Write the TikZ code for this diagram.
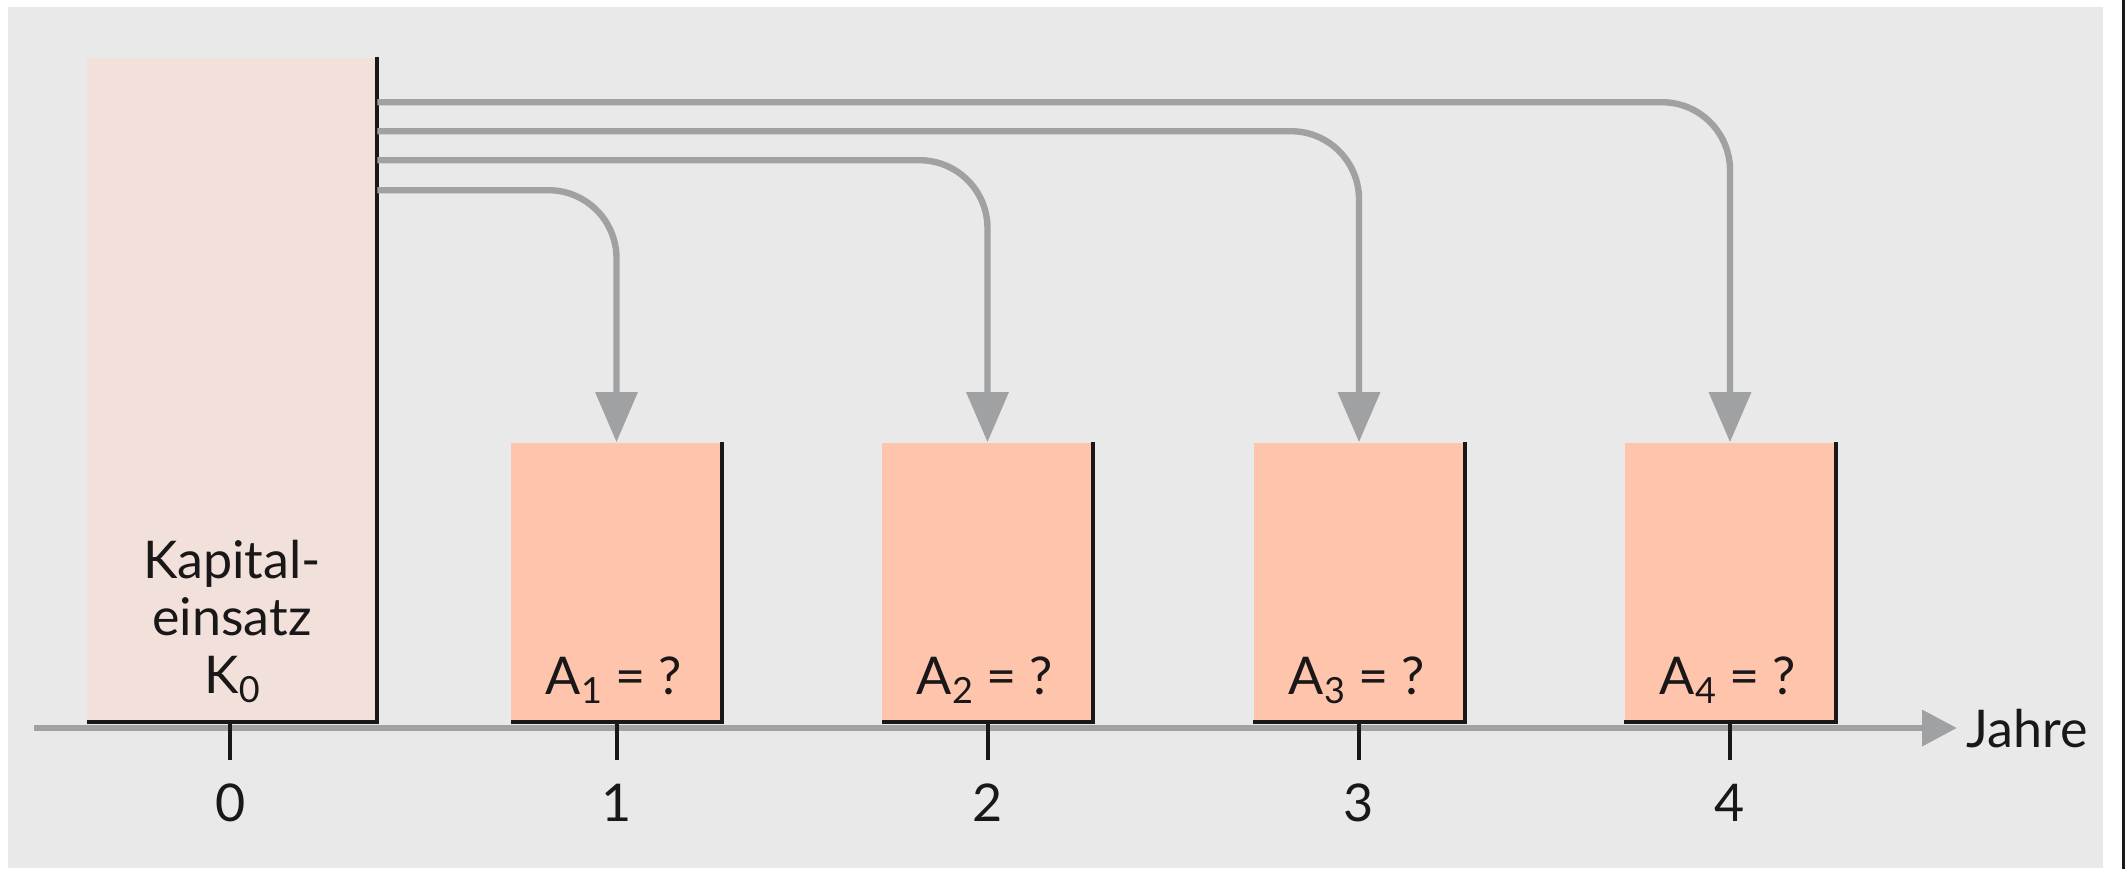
\documentclass[tikz,border=0pt]{standalone}
\usepackage{fontspec}
\setmainfont{Lato}
\usetikzlibrary{arrows.meta}
\definecolor{bgcol}{RGB}{232,233,232}
\definecolor{kcol}{RGB}{242,225,218}
\definecolor{acol}{RGB}{255,196,172}
\definecolor{lgray}{RGB}{160,161,163}
\definecolor{ink}{RGB}{26,23,24}
\newcommand\subidx[1]{\raisebox{-4.5pt}{\fontsize{18pt}{19pt}\selectfont #1}}
\tikzset{
  x=0.5pt, y=-0.5pt,
  txt/.style={font=\fontsize{26pt}{28.5pt}\selectfont, text=ink, inner sep=0pt},
  bigbox/.style={fill=kcol, draw=none, inner sep=0pt, minimum width=145pt, minimum height=332pt, anchor=south},
  smallbox/.style={fill=acol, draw=none, inner sep=0pt, minimum width=105.5pt, minimum height=139.5pt, anchor=south},
  edge/.style={draw=ink, line width=2pt},
  tickline/.style={draw=ink, line width=2pt},
  conn/.style={draw=lgray, line width=3.2pt, rounded corners=34pt, -{Triangle[length=25pt,width=20.5pt]}},
  axisline/.style={draw=lgray, line width=3.4pt, -{Triangle[length=17.5pt,width=17.5pt]}},
}
\begin{document}
\begin{tikzpicture}
\useasboundingbox (0,0) rectangle (2125,869);
\fill[bgcol] (8,7) rectangle (2103,868);
\fill[ink] (2122,0) rectangle (2125,869);

% boxes
\node[bigbox] (k0) at (232,722) {};
\node[smallbox] (a1) at (616.5,722) {};
\node[smallbox] (a2) at (987.5,722) {};
\node[smallbox] (a3) at (1359,722) {};
\node[smallbox] (a4) at (1730,722) {};

% axis
\coordinate (ax0) at (34,728);
\coordinate (ax1) at (1957,728);
\draw[axisline] (ax0) -- (ax1);
\node[txt, anchor=base west] (jahre) at (1966,747) {Jahre};

% box edges
\foreach \b in {k0,a1,a2,a3,a4}{
  \draw[edge] (\b.north east) -- (\b.south east) -- (\b.south west);
}

% ticks and labels
\draw[tickline] ([xshift=-1pt]k0.south) -- ++(0,38);
\foreach \b in {a1,a2,a3,a4}{
  \draw[tickline] (\b.south) -- ++(0,38);
}
\node[txt, anchor=base] (t0) at (231,821) {0};
\node[txt, anchor=base] (t1) at (616.5,821) {1};
\node[txt, anchor=base] (t2) at (987.5,821) {2};
\node[txt, anchor=base] (t3) at (1359,821) {3};
\node[txt, anchor=base] (t4) at (1730,821) {4};

% texts in boxes
\node[txt, anchor=base] (k0l1) at (232,578) {Kapital-};
\node[txt, anchor=base] (k0l2) at (232,635) {einsatz};
\node[txt, anchor=base] (k0l3) at (232,693) {K\subidx{0}};
\node[txt, anchor=base] (a1t) at (614,694) {A\subidx{1} = ?};
\node[txt, anchor=base] (a2t) at (985,694) {A\subidx{2} = ?};
\node[txt, anchor=base] (a3t) at (1357,694) {A\subidx{3} = ?};
\node[txt, anchor=base] (a4t) at (1728,694) {A\subidx{4} = ?};

% connectors
\draw[conn] ([yshift=-66.5pt]k0.north east) -| (a1.north);
\draw[conn] ([yshift=-51.5pt]k0.north east) -| (a2.north);
\draw[conn] ([yshift=-37pt]k0.north east) -| (a3.north);
\draw[conn] ([yshift=-22.5pt]k0.north east) -| (a4.north);
\end{tikzpicture}
\end{document}
